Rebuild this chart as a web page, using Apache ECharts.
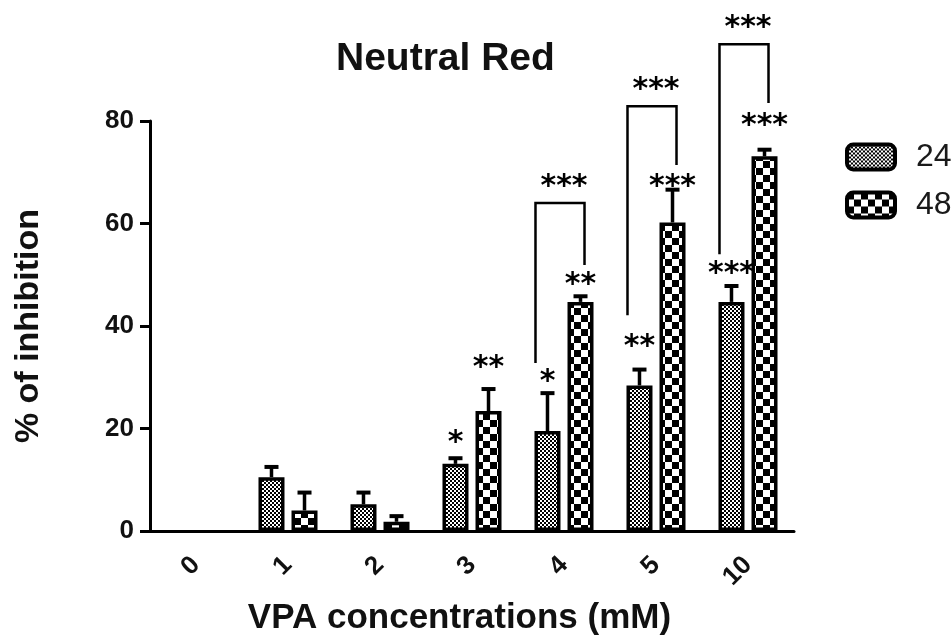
<!DOCTYPE html>
<html>
<head>
<meta charset="utf-8">
<script src="https://cdn.jsdelivr.net/npm/echarts@6/dist/echarts.min.js"></script>
<style>
  html, body { margin: 0; padding: 0; background: #fff; }
  #chart { width: 952px; height: 637px; }
</style>
</head>
<body>
<div id="chart"></div>
<script>
// VPA concentration (mM) on x, % inhibition (mean + SEM) for 24 h and 48 h
const categories = ['0', '1', '2', '3', '4', '5', '10']
const inhibition24 = [0, 10.5, 5.2, 13.1, 19.5, 28.4, 44.7]
const sem24 = [0, 2.0, 2.3, 1.1, 7.4, 3.1, 3.1]
const inhibition48 = [0, 4.0, 1.8, 23.4, 44.7, 60.2, 73.1]
const sem48 = [0, 3.5, 1.1, 4.3, 1.1, 6.4, 1.3]

// significance vs control, and where the stars sit (% units)
const stars24 = ['', '', '', '*', '*', '**', '***']
const stars24At = [null, null, null, 18.3, 30.2, 37.1, 51.3]
const stars48 = ['', '', '', '**', '**', '***', '***']
const stars48At = [null, null, null, 33.0, 49.2, 68.3, 80.2]

// 24 h vs 48 h brackets
const pairCats = ['4', '5', '10']
const pairLeftEnd = [32.8, 42.1, 54.0]
const pairRightEnd = [51.9, 71.4, 83.5]
const pairTop = [64.0, 82.9, 95.0]
const pairStars = ['***', '***', '***']

const BAR_W = 26
const BAR_GAP = 0.27
const OFFSET = BAR_W * (1 + BAR_GAP) / 2
const FONT = '"Liberation Sans", Arial, sans-serif'
const STAR_FONT = 'bold 30px "DejaVu Sans"'

// fill patterns
function makePattern(cell, fine) {
  const c = document.createElement('canvas')
  c.width = cell * 2
  c.height = cell * 2
  const ctx = c.getContext('2d')
  ctx.fillStyle = fine ? '#000' : '#fff'
  ctx.fillRect(0, 0, cell * 2, cell * 2)
  ctx.fillStyle = fine ? '#fff' : '#000'
  ctx.fillRect(0, 0, cell, cell)
  ctx.fillRect(cell, cell, cell, cell)
  return { image: c, repeat: 'repeat' }
}
const pattern24 = makePattern(2, true)
const pattern48 = makePattern(7, false)

// zero bars draw nothing (no outline on the axis)
function barData(values) {
  return values.map(v => (v === 0 ? { value: v, itemStyle: { borderWidth: 0 } } : v))
}

const errData = []
categories.forEach((c, i) => {
  errData.push([c, inhibition24[i], sem24[i], 0])
  errData.push([c, inhibition48[i], sem48[i], 1])
})

const starMarks = []
categories.forEach((c, i) => {
  if (stars24[i]) starMarks.push({ cat: c, at: stars24At[i], text: stars24[i], group: 0 })
  if (stars48[i]) starMarks.push({ cat: c, at: stars48At[i], text: stars48[i], group: 1 })
})

function starText(x, y, text) {
  return {
    type: 'text',
    x: x,
    y: y + 6,
    style: {
      text: text,
      font: STAR_FONT,
      fill: '#000',
      align: 'center',
      verticalAlign: 'middle',
      textAlign: 'center',
      textVerticalAlign: 'middle'
    }
  }
}

const chart = echarts.init(document.getElementById('chart'))
chart.setOption({
  animation: false,
  title: {
    text: 'Neutral Red',
    left: 336,
    top: 40,
    padding: 0,
    textStyle: { fontFamily: FONT, fontSize: 39, fontWeight: 'bold', color: '#111' }
  },
  legend: {
    orient: 'vertical',
    left: 840,
    top: 136,
    itemWidth: 48,
    itemHeight: 25,
    itemGap: 16,
    icon: 'roundRect',
    data: ['24', '48'],
    itemStyle: { borderColor: '#000', borderWidth: 4 },
    textStyle: { fontFamily: FONT, fontSize: 32, color: '#1a1a1a', padding: [0, 0, 0, 16] }
  },
  grid: { left: 150, right: 158, top: 121, bottom: 106, outerBoundsMode: 'none' },
  xAxis: {
    type: 'category',
    data: categories,
    name: 'VPA concentrations (mM)',
    nameLocation: 'middle',
    nameGap: 70,
    nameTextStyle: { fontFamily: FONT, fontSize: 35, fontWeight: 'bold', color: '#111', padding: [0, 25, 0, 0] },
    axisLine: { lineStyle: { color: '#000', width: 3 } },
    axisTick: { alignWithLabel: true, length: 10, lineStyle: { width: 3, color: '#000' } },
    axisLabel: { rotate: 45, margin: 30, fontFamily: FONT, fontSize: 26, fontWeight: 'bold', color: '#111' }
  },
  yAxis: {
    type: 'value',
    min: 0,
    max: 80,
    interval: 20,
    name: '% of inhibition',
    nameLocation: 'middle',
    nameGap: 104,
    nameTextStyle: { fontFamily: FONT, fontSize: 34, fontWeight: 'bold', color: '#111' },
    axisLine: { show: true, lineStyle: { color: '#000', width: 3 } },
    axisTick: { show: true, length: 10, lineStyle: { width: 3, color: '#000' } },
    splitLine: { show: false },
    axisLabel: { margin: 16, fontFamily: FONT, fontSize: 26, fontWeight: 'bold', color: '#111' }
  },
  series: [
    {
      name: '24',
      type: 'bar',
      barWidth: BAR_W,
      barGap: (BAR_GAP * 100) + '%',
      data: barData(inhibition24),
      itemStyle: { color: pattern24, borderColor: '#000', borderWidth: 3.5 }
    },
    {
      name: '48',
      type: 'bar',
      barWidth: BAR_W,
      data: barData(inhibition48),
      itemStyle: { color: pattern48, borderColor: '#000', borderWidth: 3.5 }
    },
    {
      // error bars (upper SEM only)
      type: 'custom',
      clip: false,
      z: 5,
      data: errData,
      renderItem: function (params, api) {
        const err = api.value(2)
        if (!err) return
        const base = api.coord([api.value(0), api.value(1)])
        const top = api.coord([api.value(0), api.value(1) + err])
        const x = base[0] + (api.value(3) ? OFFSET : -OFFSET)
        return {
          type: 'group',
          children: [
            { type: 'line', shape: { x1: x, y1: base[1], x2: x, y2: top[1] }, style: { stroke: '#000', lineWidth: 3.5 } },
            { type: 'line', shape: { x1: x - 7, y1: top[1], x2: x + 7, y2: top[1] }, style: { stroke: '#000', lineWidth: 4 } }
          ]
        }
      }
    },
    {
      // stars vs control
      type: 'custom',
      clip: false,
      z: 6,
      data: starMarks.map(m => [m.cat, m.at]),
      renderItem: function (params, api) {
        const m = starMarks[params.dataIndex]
        const p = api.coord([api.value(0), api.value(1)])
        return starText(p[0] + (m.group ? OFFSET : -OFFSET), p[1], m.text)
      }
    },
    {
      // 24 h vs 48 h brackets
      type: 'custom',
      clip: false,
      z: 6,
      data: pairCats.map((c, i) => [c, pairLeftEnd[i], pairRightEnd[i], pairTop[i]]),
      renderItem: function (params, api) {
        const cat = api.value(0)
        const l = api.coord([cat, api.value(1)])
        const r = api.coord([cat, api.value(2)])
        const t = api.coord([cat, api.value(3)])
        const xl = l[0] - OFFSET - 12
        const xr = l[0] + OFFSET + 4
        return {
          type: 'group',
          children: [
            {
              type: 'polyline',
              shape: { points: [[xl, l[1]], [xl, t[1]], [xr, t[1]], [xr, r[1]]] },
              style: { stroke: '#000', lineWidth: 2.5, fill: null }
            },
            starText((xl + xr) / 2 + 4, t[1] - 22, pairStars[params.dataIndex])
          ]
        }
      }
    }
  ]
})
</script>
</body>
</html>
